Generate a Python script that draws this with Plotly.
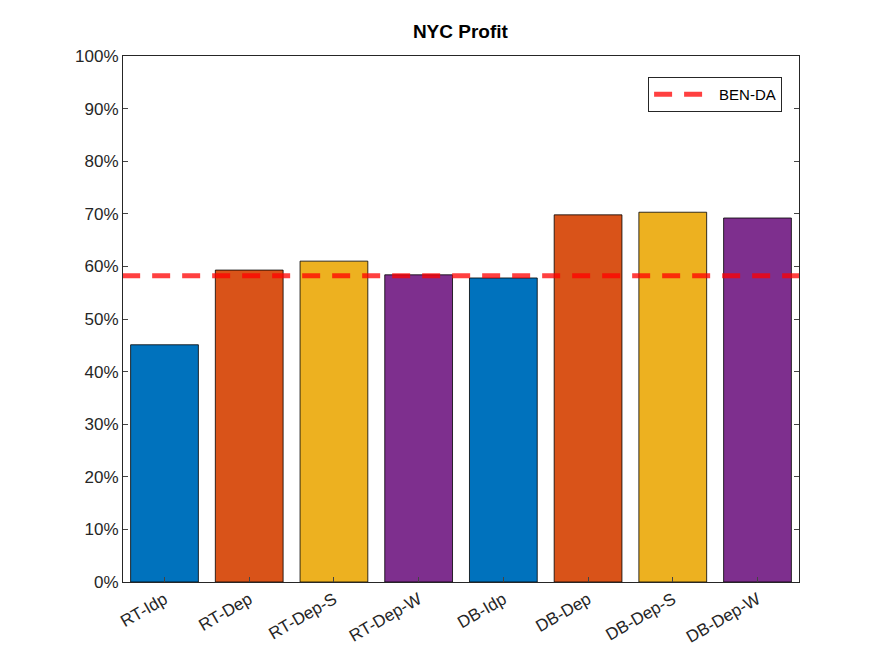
import plotly.graph_objects as go

categories = ["RT-Idp", "RT-Dep", "RT-Dep-S", "RT-Dep-W", "DB-Idp", "DB-Dep", "DB-Dep-S", "DB-Dep-W"]
profit = [0.451, 0.593, 0.610, 0.584, 0.578, 0.698, 0.703, 0.692]
ben_da = 0.582
colors = ["#0072BD", "#D95319", "#EDB120", "#7E2F8E", "#0072BD", "#D95319", "#EDB120", "#7E2F8E"]

fig = go.Figure()
fig.add_trace(go.Bar(x=list(range(len(categories))), y=profit, width=0.8,
                     marker=dict(color=colors, line=dict(color="black", width=0.8)),
                     showlegend=False))
fig.add_trace(go.Scatter(x=[-0.5, len(categories) - 0.5], y=[ben_da, ben_da], mode="lines",
                         line=dict(color="rgba(255,0,0,0.75)", width=5, dash="18px,12px"),
                         name="BEN-DA"))

fig.update_layout(
    width=875, height=656,
    margin=dict(l=115, r=84, t=48, b=82),
    paper_bgcolor="white", plot_bgcolor="white",
    font=dict(family="Liberation Sans, Arial", size=17, color="#262626"),
    title=dict(text="<b>NYC Profit</b>", x=0.517, y=0.965, yanchor="middle",
               font=dict(size=19, color="black")),
    bargap=0.2,
    legend=dict(x=0.975, y=0.96, xanchor="right", yanchor="top", itemwidth=60,
                bordercolor="#262626", borderwidth=1, bgcolor="white",
                font=dict(size=15, color="black")),
    xaxis=dict(range=[-0.49, 7.49], tickvals=list(range(len(categories))), ticktext=categories,
               tickangle=-30, showline=True, mirror=True, linecolor="#262626", automargin=False,
               ticks="inside", ticklen=5, showgrid=False, zeroline=False),
    yaxis=dict(range=[0, 1], tickformat=".0%", dtick=0.1, showline=True, mirror="ticks",
               linecolor="#262626", ticks="inside", ticklen=5, showgrid=False, zeroline=False,
               automargin=False),
)
fig.write_html("out.html")
